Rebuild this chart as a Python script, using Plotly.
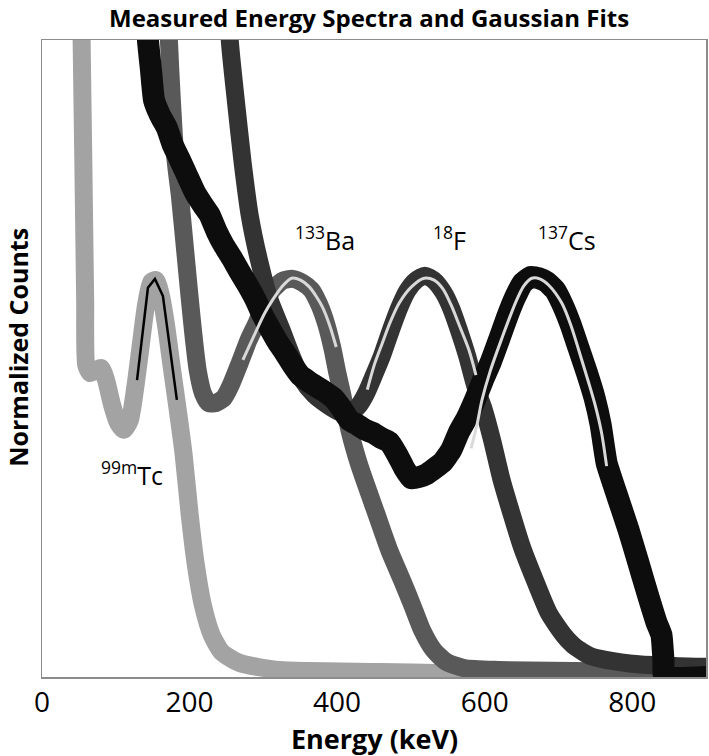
import plotly.graph_objects as go

# ---------------- data (energy in keV, normalized counts in %) ----------------
tc_energy = [53.2, 53.7, 55.8, 58.5, 59.9, 65.3, 73.4, 80.1, 86.9, 95, 103, 111, 119, 126, 133, 141,
             148, 154.5, 161, 168, 176, 184, 192, 200, 208.5, 218, 230, 243.6, 268, 322, 457, 548, 700, 900]
tc_counts = [108, 100, 82.7, 59.2, 49, 47.7, 48.2, 48.5, 46.6, 42.7, 39.9, 38.8, 40.3, 45.1, 51.3, 58.4,
             62, 62.3, 60, 55.3, 48.5, 41.9, 34.9, 25.7, 17.6, 11.3, 6.6, 3.9, 2.2, 1.1, 0.8, 0.6, 0.5, 0.4]

ba_energy = [171, 172, 176, 181, 187, 194, 200, 206, 211, 218, 226, 235.5, 246.4, 255.8, 268, 280, 291,
             302, 312.6, 326, 339.6, 353, 365, 376, 385.5, 393.6, 400, 407, 416.6, 430, 453, 470.7, 488,
             501.8, 515, 531, 547.7, 572, 619, 754, 900]
ba_counts = [106, 100, 90.6, 81.2, 75.4, 67, 59.7, 52.9, 48.2, 44.6, 43, 43, 43.8, 45.8, 49.3, 52.9, 55.6,
             58.7, 60.8, 62.2, 62.5, 61.9, 60.8, 58.4, 55.3, 51.6, 47.9, 44.3, 38.8, 33.3, 25.7, 19.9, 15.2,
             11.3, 7.4, 4.2, 2.4, 1.4, 1.1, 0.9, 0.8]

f_energy = [253.5, 254.5, 262.6, 272, 281.5, 295, 308.5, 324.7, 338, 353, 369, 387, 403, 416.6, 430, 439.6,
            450, 461, 473, 484, 495, 507, 519, 531, 544, 554.5, 565, 576, 587, 599, 610, 623, 637, 650.5,
            668, 687, 707, 723, 743, 764, 808.5, 862.6, 900]
f_counts = [106, 100, 90.6, 80.7, 72.5, 65, 59.2, 54.5, 50.5, 46.6, 44.3, 42.7, 41.6, 41.3, 42.7, 44.6,
            47.4, 50.5, 54.5, 57.9, 60.6, 62.3, 63, 62.3, 60.4, 57.9, 54.5, 50.5, 45.8, 41.9, 37.2, 30.9,
            25.4, 20.4, 15.2, 10, 6.6, 4.7, 3.3, 2.7, 2, 1.7, 1.6]

cs_energy = [142.5, 143.6, 147.7, 151.8, 159.9, 169.3, 177.4, 186.9, 196.4, 207.2, 218, 227.4, 236.9, 246.4,
             257.2, 268, 278.8, 289.6, 299, 308.5, 319.3, 328.8, 339.6, 350.4, 362.6, 373.4, 384.2, 395,
             405.8, 416.6, 427.4, 438.2, 449, 459.9, 470.7, 481.5, 490.9, 500.4, 511.2, 522, 532.8, 543.6,
             554.5, 565.3, 576, 586.9, 597.7, 608.5, 619.3, 630.1, 640.9, 651.8, 662.6, 673.4, 684.2, 695,
             705.8, 716.6, 727.4, 738.2, 749, 757.2, 765.3, 780.1, 795, 808.5, 822, 832.8, 839.6, 842.3,
             843.6, 901.8]
cs_counts = [106, 100, 95.3, 90.6, 88.2, 86.2, 83.5, 81.2, 78.8, 76.1, 74.1, 72.5, 69.9, 67.8,
             65.8, 63.6, 61.5, 59.2, 56.8, 54.8, 52.6, 51.0, 49.0, 47.3, 46.3, 45.5, 44.7, 43.8,
             42.2, 40.3, 39.6, 38.8, 38.3, 37.5, 36.9, 34.9, 32.8, 31.2, 31.4, 31.9, 32.8, 33.8,
             35.6, 38.5, 40.7, 43.5, 46.6, 49.5, 52.9, 56.4, 59.5, 61.9, 62.8, 62.6, 62.0, 60.8,
             58.4, 55.3, 51.6, 47.9, 43.8, 39.6, 33.6, 28.3, 23.1, 17.9, 12.6, 8.6, 6.6, 2.7,
             0, 0]

tc_fit_energy = [128.8, 143.6, 153.1, 163.9, 182.8]
tc_fit_counts = [46.6, 61.1, 62.5, 59.8, 43.5]

ba_fit_energy = [272.3, 281.5, 291, 301.8, 312.6, 324.7, 338.2, 350.4, 362.6, 372, 380, 389.6, 398.8]
ba_fit_counts = [49.8, 52.1, 54.5, 57.1, 59.2, 61.2, 62.6, 62.3, 61.2, 59.7, 58.1, 55.3, 51.8]

f_fit_energy = [440.9, 450.4, 461.2, 472, 484.2, 500.4, 518, 531.5, 543.6, 554.5, 565.3, 578.8, 588.2]
f_fit_counts = [45.1, 49.0, 52.4, 55.7, 58.7, 61.2, 62.6, 62.3, 60.9, 58.4, 55.3, 51.3, 47.4]

cs_fit_energy = [581.5, 589.6, 596.4, 607.2, 623.4, 642.3, 653.1, 663.9, 674.7, 686.9, 704.5, 716.6,
                 731.5, 741, 750.4, 758.5, 765.3]
cs_fit_counts = [35.9, 39.6, 43.5, 47.9, 53.2, 58.9, 61.4, 62.6, 62.5, 61.5, 58.7, 55.3,
                 49.8, 46.2, 42.4, 38.3, 33.1]

isotope_labels = ["<sup>99m</sup>Tc", "<sup>133</sup>Ba", "<sup>18</sup>F", "<sup>137</sup>Cs"]
label_energy = [122, 383, 552, 711]
label_counts = [32, 68.9, 68.9, 68.9]

x_ticks = [0, 200, 400, 600, 800]

# ---------------- figure ----------------
FONT = "Open Sans"
fig = go.Figure()

fig.add_trace(go.Scatter(x=tc_energy, y=tc_counts, mode="lines", hoverinfo="skip",
                         line=dict(color="#a3a3a3", width=18, shape="spline", smoothing=0.6)))
fig.add_trace(go.Scatter(x=ba_energy, y=ba_counts, mode="lines", hoverinfo="skip",
                         line=dict(color="#595959", width=18, shape="spline", smoothing=0.6)))
fig.add_trace(go.Scatter(x=f_energy, y=f_counts, mode="lines", hoverinfo="skip",
                         line=dict(color="#333333", width=18, shape="spline", smoothing=0.6)))
fig.add_trace(go.Scatter(x=cs_energy, y=cs_counts, mode="lines", hoverinfo="skip",
                         line=dict(color="#0d0d0d", width=22, shape="spline", smoothing=0.4)))

fig.add_trace(go.Scatter(x=tc_fit_energy, y=tc_fit_counts, mode="lines", hoverinfo="skip",
                         line=dict(color="#000000", width=2.5)))
for fx, fy in [(ba_fit_energy, ba_fit_counts), (f_fit_energy, f_fit_counts), (cs_fit_energy, cs_fit_counts)]:
    fig.add_trace(go.Scatter(x=fx, y=fy, mode="lines", hoverinfo="skip",
                             line=dict(color="#d9d9d9", width=3, shape="spline", smoothing=0.8)))

annotations = []
for t, ex, cy in zip(isotope_labels, label_energy, label_counts):
    annotations.append(dict(x=ex, y=cy, xref="x", yref="y", text=t, showarrow=False,
                            font=dict(family=FONT, size=25, color="#000000"),
                            xanchor="center", yanchor="middle"))

annotations.append(dict(text="<b>Normalized Counts</b>", xref="paper", yref="paper",
                        x=-0.0365, y=0.518, textangle=-90, showarrow=False,
                        xanchor="center", yanchor="middle",
                        font=dict(family=FONT, size=25, color="#000000")))
annotations.append(dict(text="<b>Energy (keV)</b>", xref="paper", yref="paper",
                        x=0.5, y=-0.0958, showarrow=False, xanchor="center", yanchor="middle",
                        font=dict(family=FONT, size=27, color="#000000")))
annotations.append(dict(text="<b>Measured Energy Spectra and Gaussian Fits</b>", xref="paper", yref="paper",
                        x=0.4925, y=1.036, showarrow=False, xanchor="center", yanchor="middle",
                        font=dict(family=FONT, size=24, color="#000000")))

fig.update_layout(
    width=709, height=756,
    margin=dict(l=42, r=1, t=40, b=79),
    paper_bgcolor="white", plot_bgcolor="white",
    showlegend=False,
    hovermode=False,
    annotations=annotations,
    font=dict(family=FONT, color="#000000"),
)
fig.update_xaxes(range=[0, 900], tickvals=x_ticks, ticktext=[str(v) for v in x_ticks],
                 showgrid=False, zeroline=False, showline=True, linecolor="#8c8c8c", linewidth=1.5,
                 mirror=True, ticks="", tickfont=dict(family=FONT, size=28, color="#000000"))
fig.update_yaxes(range=[0, 100], showticklabels=False, showgrid=False, zeroline=False,
                 showline=True, linecolor="#8c8c8c", linewidth=1.5, mirror=True, ticks="")

fig.write_html("out.html", config={"displayModeBar": False, "staticPlot": True},
               post_script="document.body.style.margin='0';document.body.style.padding='0';"
                           "document.documentElement.style.overflow='hidden';")
